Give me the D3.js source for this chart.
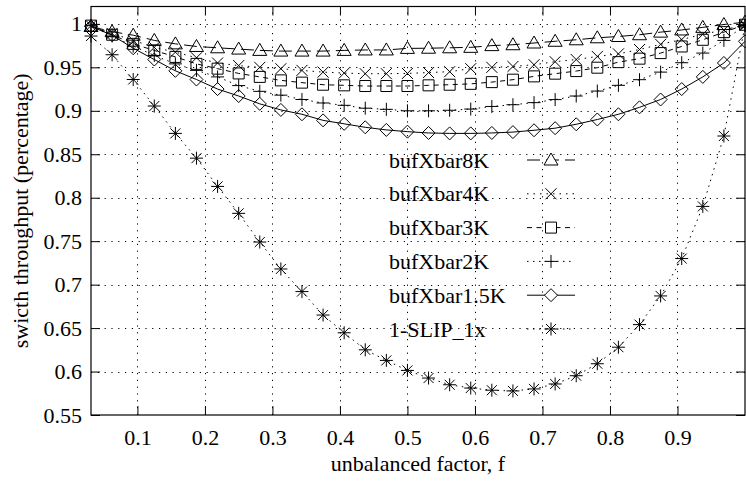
<!DOCTYPE html>
<html>
<head>
<meta charset="utf-8">
<script src="https://cdn.jsdelivr.net/npm/d3@7"></script>
<style>
  body { margin: 0; background: #fff; }
  svg { display: block; }
  text { font-family: "Liberation Serif", "DejaVu Serif", serif; fill: #000; }
</style>
</head>
<body>
<svg id="chart" width="746" height="481"></svg>
<script>
// unbalanced factor f = k/32
const factors = [0.03125, 0.0625, 0.09375, 0.125, 0.15625, 0.1875, 0.21875, 0.25,
  0.28125, 0.3125, 0.34375, 0.375, 0.40625, 0.4375, 0.46875, 0.5,
  0.53125, 0.5625, 0.59375, 0.625, 0.65625, 0.6875, 0.71875, 0.75,
  0.78125, 0.8125, 0.84375, 0.875, 0.90625, 0.9375, 0.96875, 1.0];

const buf8K = [0.997, 0.991, 0.987, 0.981, 0.977, 0.974, 0.9725, 0.971,
  0.9695, 0.9687, 0.9687, 0.9687, 0.9695, 0.970, 0.970, 0.9718,
  0.972, 0.9725, 0.973, 0.975, 0.976, 0.978, 0.980, 0.9817,
  0.984, 0.9855, 0.9875, 0.9905, 0.993, 0.996, 0.9993, 1.002];

const buf4K = [0.998, 0.989, 0.981, 0.973, 0.9675, 0.961, 0.955, 0.952,
  0.950, 0.9484, 0.9465, 0.9445, 0.9434, 0.9427, 0.9427, 0.943,
  0.944, 0.945, 0.9485, 0.950, 0.951, 0.953, 0.9565, 0.959,
  0.9625, 0.9655, 0.9705, 0.9765, 0.982, 0.988, 0.993, 0.999];

const buf3K = [0.998, 0.9875, 0.977, 0.9695, 0.962, 0.954, 0.9485, 0.943,
  0.939, 0.935, 0.9324, 0.930, 0.9293, 0.9285, 0.9285, 0.9285,
  0.9293, 0.930, 0.931, 0.933, 0.9358, 0.9396, 0.9427, 0.9457,
  0.9496, 0.956, 0.960, 0.9664, 0.974, 0.9817, 0.9905, 0.999];

const buf2K = [0.998, 0.986, 0.9744, 0.9637, 0.954, 0.9465, 0.939, 0.929,
  0.9224, 0.918, 0.913, 0.909, 0.9063, 0.903, 0.9017, 0.900,
  0.900, 0.9006, 0.902, 0.905, 0.907, 0.9094, 0.9129, 0.917,
  0.9227, 0.9293, 0.9358, 0.9445, 0.9553, 0.9664, 0.981, 0.998];

const buf1_5K = [0.997, 0.987, 0.972, 0.959, 0.946, 0.936, 0.925, 0.917,
  0.908, 0.901, 0.896, 0.889, 0.885, 0.881, 0.878, 0.876,
  0.8745, 0.874, 0.874, 0.8745, 0.8755, 0.8776, 0.880, 0.8845,
  0.890, 0.896, 0.904, 0.913, 0.925, 0.939, 0.955, 0.980];

const slip1x = [0.986, 0.9645, 0.936, 0.9055, 0.874, 0.8455, 0.813, 0.782,
  0.749, 0.718, 0.692, 0.665, 0.6446, 0.625, 0.6128, 0.6013,
  0.5925, 0.5848, 0.581, 0.5785, 0.5777, 0.580, 0.5857, 0.5952,
  0.609, 0.628, 0.654, 0.687, 0.730, 0.790, 0.871, 0.998];

const seriesNames = ["bufXbar8K", "bufXbar4K", "bufXbar3K", "bufXbar2K", "bufXbar1.5K", "1-SLIP_1x"];
const seriesValues = [buf8K, buf4K, buf3K, buf2K, buf1_5K, slip1x];
const seriesMarks = ["triangle", "cross", "square", "plus", "diamond", "star"];
const seriesDash = ["13,6", "1.5,5", "5,4.5", "1.5,4.5", null, "1.5,4.5"];

const xTicks = [0.1, 0.2, 0.3, 0.4, 0.5, 0.6, 0.7, 0.8, 0.9];
const yTicks = [0.55, 0.6, 0.65, 0.7, 0.75, 0.8, 0.85, 0.9, 0.95, 1];

const svg = d3.select("#chart");
const plotLeft = 91, plotRight = 745, plotTop = 6.5, plotBottom = 415;

const x = d3.scaleLinear().domain([0.03125, 1]).range([plotLeft, plotRight]);
const y = d3.scaleLinear().domain([0.55, 1.02]).range([plotBottom, plotTop]);

// grid
const grid = svg.append("g").attr("stroke", "#000").attr("stroke-width", 1)
  .attr("stroke-dasharray", "1.2,5.6");
grid.selectAll(".gx").data(xTicks).join("line")
  .attr("x1", d => Math.round(x(d)) + 0.5).attr("x2", d => Math.round(x(d)) + 0.5)
  .attr("y1", plotBottom).attr("y2", plotTop);
grid.selectAll(".gy").data(yTicks.slice(1)).join("line")
  .attr("y1", d => Math.round(y(d)) + 0.5).attr("y2", d => Math.round(y(d)) + 0.5)
  .attr("x1", plotLeft).attr("x2", plotRight);

// axes with inward ticks, mirrored
const fmt = d => d3.format("")(+d.toFixed(2));
svg.append("g").attr("transform", `translate(0,${plotBottom})`)
  .call(d3.axisBottom(x).tickValues(xTicks).tickSizeInner(-9).tickSizeOuter(0).tickPadding(14).tickFormat(fmt))
  .call(g => g.select(".domain").remove())
  .call(g => g.selectAll("text").style("font-size", "22px"));
svg.append("g").attr("transform", `translate(0,${plotTop})`)
  .call(d3.axisTop(x).tickValues(xTicks).tickSizeInner(-9).tickSizeOuter(0).tickFormat(""))
  .call(g => g.select(".domain").remove());
svg.append("g").attr("transform", `translate(${plotLeft},0)`)
  .call(d3.axisLeft(y).tickValues(yTicks).tickSizeInner(-9).tickSizeOuter(0).tickPadding(9).tickFormat(fmt))
  .call(g => g.select(".domain").remove())
  .call(g => g.selectAll("text").style("font-size", "22px"));
svg.append("g").attr("transform", `translate(${plotRight},0)`)
  .call(d3.axisRight(y).tickValues(yTicks).tickSizeInner(-9).tickSizeOuter(0).tickFormat(""))
  .call(g => g.select(".domain").remove());

svg.append("rect")
  .attr("x", plotLeft).attr("y", plotTop).attr("width", plotRight - plotLeft).attr("height", plotBottom - plotTop)
  .attr("fill", "none").attr("stroke", "#000").attr("stroke-width", 1.2);

// axis labels
svg.append("text")
  .attr("x", (plotLeft + plotRight) / 2).attr("y", 471)
  .attr("text-anchor", "middle").style("font-size", "22px")
  .text("unbalanced factor, f");
svg.append("text")
  .attr("transform", `translate(28,${(plotTop + plotBottom) / 2}) rotate(-90)`)
  .attr("text-anchor", "middle").style("font-size", "22px")
  .text("swicth throughput (percentage)");

// marker shapes
function markPath(type, cx, cy) {
  const p = d3.path();
  if (type === "triangle") {
    p.moveTo(cx, cy - 7); p.lineTo(cx + 7, cy + 5); p.lineTo(cx - 7, cy + 5); p.closePath();
  } else if (type === "square") {
    p.rect(cx - 5.5, cy - 5.5, 11, 11);
  } else if (type === "diamond") {
    p.moveTo(cx, cy - 6.5); p.lineTo(cx + 6.5, cy); p.lineTo(cx, cy + 6.5); p.lineTo(cx - 6.5, cy); p.closePath();
  } else if (type === "cross") {
    p.moveTo(cx - 5.5, cy - 5.5); p.lineTo(cx + 5.5, cy + 5.5);
    p.moveTo(cx - 5.5, cy + 5.5); p.lineTo(cx + 5.5, cy - 5.5);
  } else if (type === "plus") {
    p.moveTo(cx - 6.5, cy); p.lineTo(cx + 6.5, cy);
    p.moveTo(cx, cy - 6.5); p.lineTo(cx, cy + 6.5);
  } else if (type === "star") {
    p.moveTo(cx - 6.5, cy); p.lineTo(cx + 6.5, cy);
    p.moveTo(cx, cy - 6.5); p.lineTo(cx, cy + 6.5);
    p.moveTo(cx - 5, cy - 5); p.lineTo(cx + 5, cy + 5);
    p.moveTo(cx - 5, cy + 5); p.lineTo(cx + 5, cy - 5);
  }
  return p.toString();
}

const line = d3.line().x(d => x(d[0])).y(d => y(d[1]));

seriesValues.forEach((vals, i) => {
  const pts = vals.map((v, j) => [factors[j], v]);
  const g = svg.append("g");
  g.append("path").datum(pts)
    .attr("d", line)
    .attr("fill", "none").attr("stroke", "#000").attr("stroke-width", 1)
    .attr("stroke-dasharray", seriesDash[i]);
  g.selectAll("path.m").data(pts).join("path").attr("class", "m")
    .attr("d", d => markPath(seriesMarks[i], x(d[0]), y(d[1])))
    .attr("fill", "none").attr("stroke", "#000").attr("stroke-width", 1);

  // legend entry
  const ly = 160 + i * 33.8;
  svg.append("text").attr("x", 389).attr("y", ly + 7.5)
    .style("font-size", "22px").text(seriesNames[i]);
  svg.append("line").attr("x1", 527).attr("x2", 575).attr("y1", ly).attr("y2", ly)
    .attr("stroke", "#000").attr("stroke-width", 1).attr("stroke-dasharray", seriesDash[i]);
  svg.append("path").attr("d", markPath(seriesMarks[i], 551, ly))
    .attr("fill", "#fff").attr("stroke", "#000").attr("stroke-width", 1);
});
</script>
</body>
</html>
